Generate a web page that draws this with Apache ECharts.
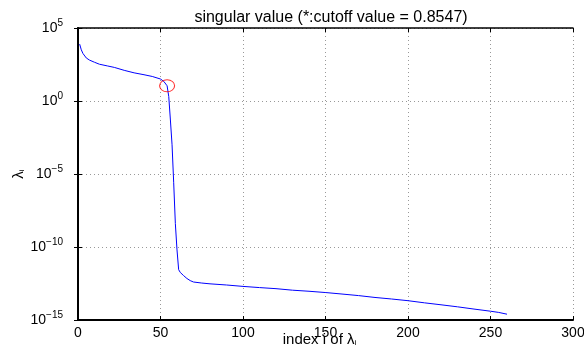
<!DOCTYPE html>
<html>
<head>
<meta charset="utf-8">
<script src="https://cdn.jsdelivr.net/npm/echarts@6/dist/echarts.min.js"></script>
<style>
  html, body { margin: 0; padding: 0; background: #fff; }
  #chart { width: 584px; height: 347px; }
</style>
</head>
<body>
<div id="chart"></div>
<script>
// index i of lambda_i
const idx = [1, 2, 3, 5, 7, 10, 13, 18, 22, 28, 34, 40, 45, 50, 52, 53, 54,
  55, 56, 57, 58, 59, 60, 61, 62, 64, 66, 68, 70, 75, 80, 90, 100, 110, 120,
  130, 140, 150, 160, 170, 180, 190, 200, 210, 220, 230, 240, 250, 255, 260]
// singular values
const lambda = [7.9e3, 3.2e3, 1.8e3, 890, 630, 450, 330, 250, 200, 126, 85, 63, 48, 32, 22, 18, 11,
  2, 5e-2, 1e-3, 2.5e-6, 4e-9, 6.3e-11, 2.8e-12, 1.8e-12, 1.1e-12, 7e-13, 5e-13, 4e-13, 3.4e-13, 3e-13, 2.5e-13, 2e-13, 1.66e-13, 1.4e-13,
  1.1e-13, 9.3e-14, 7.6e-14, 6e-14, 4.7e-14, 3.5e-14, 2.75e-14, 2.1e-14, 1.5e-14, 1.1e-14, 8e-15, 5.6e-15, 4e-15, 3.3e-15, 2.5e-15]
// cutoff point marked with the red circle
const cutoff = [54, 11]

const chart = echarts.init(document.getElementById('chart'))

const font = 'Liberation Sans, Arial, sans-serif'
const supLabel = v => {
  const e = Math.round(Math.log10(v))
  return '{b|10}{s|' + (e < 0 ? '\u2212' + (-e) : e) + '}'
}

chart.setOption({
  animation: false,
  title: {
    text: 'singular value (*:cutoff value = 0.8547)',
    left: 326,
    top: 5,
    textAlign: 'center',
    textStyle: { fontFamily: font, fontSize: 16, fontWeight: 'normal', color: '#000' }
  },
  grid: { left: 78, right: 11, top: 28, bottom: 27, outerBoundsMode: 'none', containLabel: false },
  xAxis: [{
    type: 'value',
    min: 0,
    max: 300,
    interval: 50,
    name: '{n|index i of λ}{sub|i}',
    nameLocation: 'middle',
    nameGap: 12,
    nameMoveOverlap: false,
    nameTextStyle: {
      padding: [0, 12, 0, 0],
      rich: {
        n: { fontFamily: font, fontSize: 15, color: '#000' },
        sub: { fontFamily: font, fontSize: 8, color: '#000', padding: [7, 0, 0, 0] }
      }
    },
    axisLine: { lineStyle: { color: '#000', width: 2 } },
    axisTick: { inside: true, length: 4, lineStyle: { color: '#000' } },
    axisLabel: { fontFamily: font, fontSize: 14, color: '#000', margin: 6 },
    splitLine: { show: true, lineStyle: { color: '#999', type: [1, 3], width: 1 } }
  }, {
    type: 'value',
    position: 'top',
    min: 0,
    max: 300,
    interval: 50,
    axisLine: { show: true, lineStyle: { color: '#000', width: 1.5 } },
    axisTick: { inside: true, length: 4, lineStyle: { color: '#000' } },
    axisLabel: { show: false },
    splitLine: { show: false }
  }],
  yAxis: [{
    type: 'log',
    logBase: 10,
    min: 1e-15,
    max: 1e5,
    interval: 5,
    name: '{n|λ}{sub|i}',
    nameLocation: 'middle',
    nameGap: 52,
    nameRotate: 90,
    nameMoveOverlap: false,
    nameTextStyle: {
      rich: {
        n: { fontFamily: font, fontSize: 15, color: '#000' },
        sub: { fontFamily: font, fontSize: 8, color: '#000', padding: [7, 0, 0, 0] }
      }
    },
    axisLine: { show: true, lineStyle: { color: '#000', width: 2 } },
    axisTick: { show: true, inside: true, length: 4, lineStyle: { color: '#000' } },
    axisLabel: {
      margin: 15,
      formatter: supLabel,
      rich: {
        b: { fontFamily: font, fontSize: 14, color: '#000' },
        s: { fontFamily: font, fontSize: 10, color: '#000', padding: [0, 0, 10, 0] }
      }
    },
    minorTick: { show: false },
    splitLine: { show: true, lineStyle: { color: '#999', type: [1, 3], width: 1 } }
  }, {
    type: 'log',
    logBase: 10,
    position: 'right',
    min: 1e-15,
    max: 1e5,
    interval: 5,
    axisLine: { show: true, lineStyle: { color: '#000', width: 1.5 } },
    axisTick: { show: true, inside: true, length: 4, lineStyle: { color: '#000' } },
    axisLabel: { show: false },
    splitLine: { show: false }
  }],
  series: [{
    type: 'line',
    data: idx.map((x, i) => [x, lambda[i]]),
    showSymbol: false,
    lineStyle: { color: '#0000ff', width: 1 },
    z: 3
  }, {
    type: 'scatter',
    data: [cutoff],
    symbol: 'circle',
    symbolSize: [15, 12],
    itemStyle: { color: 'rgba(0,0,0,0)', borderColor: '#ff0000', borderWidth: 1 },
    z: 4
  }]
})
</script>
</body>
</html>
